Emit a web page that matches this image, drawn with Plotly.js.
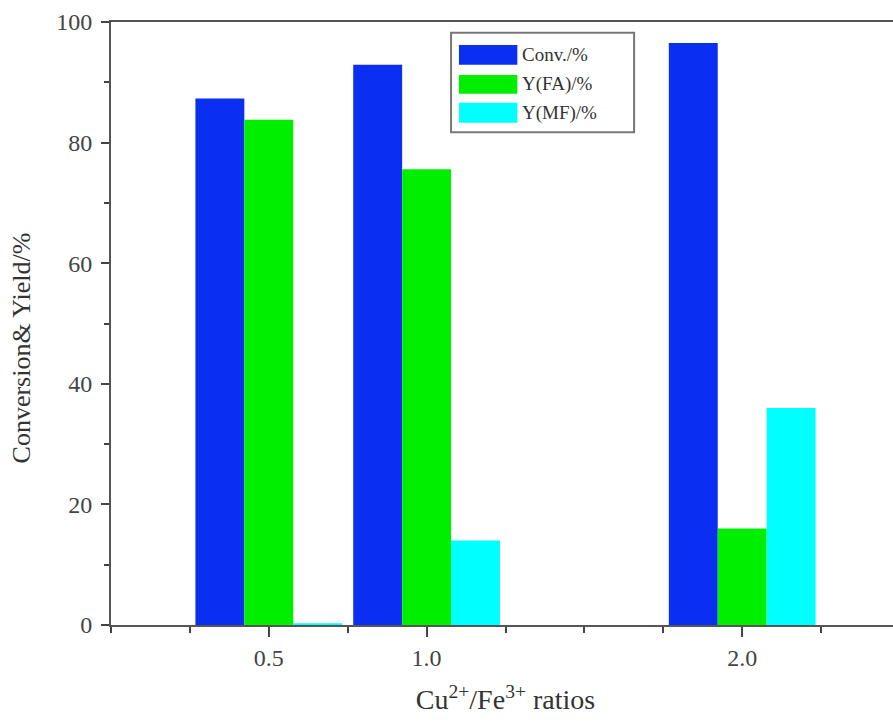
<!DOCTYPE html>
<html>
<head>
<meta charset="utf-8">
<script src="https://cdn.plot.ly/plotly-3.0.1.min.js"></script>
<style>html,body{margin:0;padding:0;overflow:hidden;background:#fff;}#chart{width:910px;height:723px;}</style>
</head>
<body>
<div id="chart"></div>
<script>
// Data
var ratios = [0.5, 1.0, 2.0];
var seriesNames = ["Conv./%", "Y(FA)/%", "Y(MF)/%"];
var convValues = [87.3, 92.9, 96.5];
var faValues = [83.8, 75.6, 16.0];
var mfValues = [0.3, 14.0, 36.0];
var xTickVals = [0.5, 1.0, 2.0];
var xTickText = ["0.5", "1.0", "2.0"];
var xUnlabeledMajor = [0, 1.5, 2.5];
var yTickVals = [0, 20, 40, 60, 80, 100];
var yTickText = ["0", "20", "40", "60", "80", "100"];
var xTitle = "Cu<sup>2+</sup>/Fe<sup>3+</sup> ratios";
var yTitle = "Conversion& Yield/%";

var colors = ["#0b2ff0", "#00ee00", "#00ffff"];
var allValues = [convValues, faValues, mfValues];

var traces = allValues.map(function (vals, i) {
  return {
    type: "bar",
    x: ratios,
    y: vals,
    name: seriesNames[i],
    marker: {color: colors[i], line: {width: 0}},
    showlegend: false
  };
});

var font = "Liberation Serif, Times New Roman, serif";

// custom legend (paper coordinates)
var shapes = [{
  type: "rect", xref: "paper", yref: "paper",
  x0: 0.431, x1: 0.663, y0: 0.817, y1: 0.982,
  line: {color: "#777", width: 2}, fillcolor: "rgba(0,0,0,0)"
}];
var annotations = [];
var rowTop = [0.962, 0.912, 0.866];
var rowBot = [0.929, 0.881, 0.833];
for (var i = 0; i < seriesNames.length; i++) {
  shapes.push({
    type: "rect", xref: "paper", yref: "paper",
    x0: 0.441, x1: 0.515, y0: rowBot[i], y1: rowTop[i],
    line: {width: 0}, fillcolor: colors[i]
  });
  annotations.push({
    xref: "paper", yref: "paper", x: 0.518, y: (rowTop[i] + rowBot[i]) / 2,
    xanchor: "left", yanchor: "middle", showarrow: false,
    text: seriesNames[i], font: {family: font, size: 19, color: "#333"}
  });
}
// y-axis title placed slightly below the plot centre, as in the reference
annotations.push({
  xref: "paper", yref: "paper", x: -0.113, y: 0.46,
  xanchor: "center", yanchor: "middle", showarrow: false, textangle: -90,
  text: yTitle, font: {family: font, size: 26, color: "#333"}
});

var layout = {
  width: 910, height: 723,
  margin: {l: 111, r: 10, t: 22, b: 98},
  paper_bgcolor: "#fff", plot_bgcolor: "#fff",
  barmode: "group", bargap: 0.07, bargroupgap: 0,
  font: {family: font, color: "#333"},
  xaxis: {
    range: [0, 2.5],
    tickmode: "array", tickvals: xTickVals, ticktext: xTickText,
    ticks: "outside", ticklen: 10, tickwidth: 2, tickcolor: "#444",
    minor: {dtick: 0.25, tick0: 0, ticks: "outside", ticklen: 6, tickwidth: 2, tickcolor: "#444"},
    showline: true, linecolor: "#555", linewidth: 2, mirror: true,
    showgrid: false, zeroline: false,
    tickfont: {family: font, size: 24, color: "#444"},
    title: {text: xTitle, font: {family: font, size: 28, color: "#333"}, standoff: 20}
  },
  xaxis2: {
    overlaying: "x", anchor: "y", side: "bottom", matches: "x",
    range: [0, 2.5],
    tickmode: "array", tickvals: xUnlabeledMajor,
    showticklabels: false,
    ticks: "outside", ticklen: 10, tickwidth: 2, tickcolor: "#444",
    showline: false, showgrid: false, zeroline: false
  },
  yaxis: {
    range: [0, 100],
    tickmode: "array", tickvals: yTickVals, ticktext: yTickText,
    ticks: "outside", ticklen: 8, tickwidth: 2, tickcolor: "#444",
    minor: {dtick: 10, tick0: 0, ticks: "outside", ticklen: 5, tickwidth: 2, tickcolor: "#444"},
    showline: true, linecolor: "#555", linewidth: 2, mirror: true,
    showgrid: false, zeroline: false,
    ticklabelstandoff: 4,
    tickfont: {family: font, size: 24, color: "#444"}
  },
  shapes: shapes,
  annotations: annotations
};

Plotly.newPlot("chart", traces, layout, {displayModeBar: false, staticPlot: true});
</script>
</body>
</html>
